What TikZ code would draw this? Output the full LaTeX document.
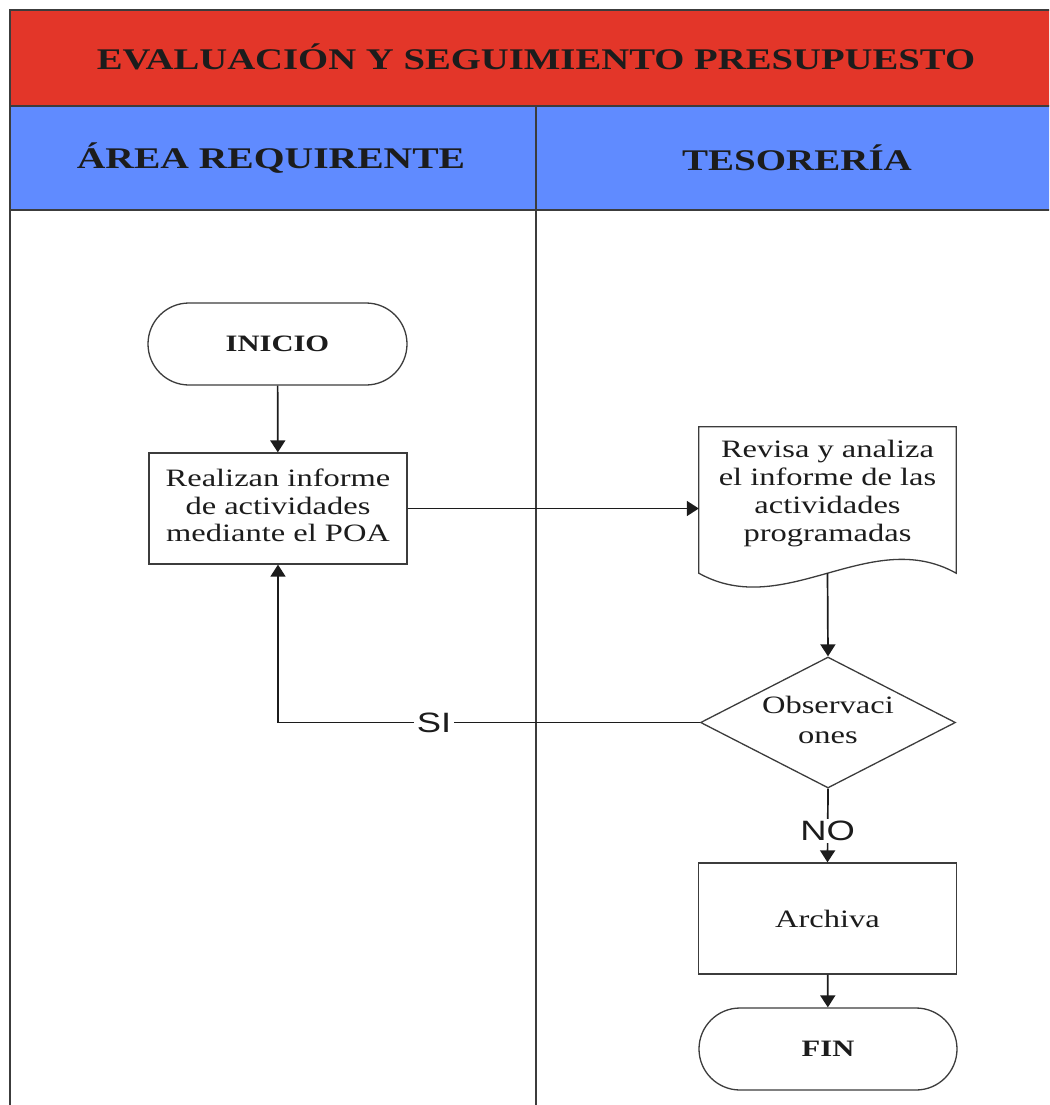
\documentclass[tikz,border=0pt]{standalone}
\usepackage{graphicx}
\usepackage{fontspec}
\setmainfont{Liberation Serif}
\newfontfamily\labelfont{Liberation Sans}
\usetikzlibrary{shapes.geometric,arrows.meta}
\definecolor{titlered}{RGB}{227,54,41}
\definecolor{laneblue}{RGB}{96,139,255}
\definecolor{ink}{RGB}{28,28,28}
\definecolor{rulegray}{RGB}{60,60,60}
% all lettering in this chart is set slightly wide
\newcommand\stretched[1]{\scalebox{1.3}[1]{#1}}
\newcommand\lines[1]{\stretched{\begin{tabular}{@{}c@{}}#1\end{tabular}}}

\begin{document}
\begin{tikzpicture}[x=1pt,y=-1pt,
  every node/.style={inner sep=0pt, text=ink},
  frameline/.style={draw=rulegray, line width=1.4pt},
  shapeline/.style={draw=rulegray, line width=1.3pt, fill=white},
  terminal/.style={shapeline, rounded corners=41pt, minimum width=259pt, minimum height=82pt,
    font=\fontsize{23.5}{27}\selectfont\bfseries},
  process/.style={shapeline, minimum width=258pt, minimum height=111pt,
    font=\fontsize{25}{27.7}\selectfont},
  decision/.style={shapeline, diamond, aspect=1.95, minimum width=255pt, minimum height=131pt,
    font=\fontsize{25}{29.5}\selectfont},
  bodytext/.style={font=\fontsize{25}{27.7}\selectfont},
  headtext/.style={font=\fontsize{30}{32}\selectfont\bfseries},
  branchlabel/.style={fill=white, inner xsep=3pt, inner ysep=2pt, font=\labelfont\fontsize{28}{30}\selectfont},
  flow/.style={draw=ink, line width=1.7pt, -{Triangle[length=12pt,width=15pt]}}
]
\useasboundingbox (0,0) rectangle (1049,1105);
\clip (0,0) rectangle (1049,1105);

% swimlane frame
\fill[titlered] (10,10) rectangle (1062,106);
\fill[laneblue] (10,106) rectangle (1062,210);
\draw[frameline] (1062,10) -- (10,10) -- (10,1110);
\draw[frameline] (10,106) -- (1062,106);
\draw[frameline] (10,210) -- (1062,210);
\draw[frameline] (536,106) -- (536,1110);

\node[headtext] (title) at (536,57) {\scalebox{1.29}[1]{EVALUACIÓN Y SEGUIMIENTO PRESUPUESTO}};
\node[headtext] (lanea) at (271,158) {\scalebox{1.32}[1]{ÁREA REQUIRENTE}};
\node[headtext] (laneb) at (797,158) {\stretched{TESORERÍA}};

% flow shapes
\node[terminal] (start) at (277.5,344) {\stretched{INICIO}};
\node[process] (report) at (278,508.5) {\lines{Realizan informe\\de actividades\\mediante el POA}};

\node[minimum width=257pt, minimum height=146pt] (doc) at (827.5,500) {};
\draw[shapeline] (doc.south west) -- (doc.north west) -- (doc.north east) -- (doc.south east)
  .. controls +(-86,-48) and +(86,48) .. (doc.south west) -- cycle;
\node[bodytext] (doctext) at (827.5,494) {\lines{Revisa y analiza\\el informe de las\\actividades\\programadas}};

\node[decision] (check) at (828,722.5) {\lines{Observaci\\ones}};
\node[process] (archive) at (827.5,918.5) {\stretched{Archiva}};
\node[terminal, minimum width=258pt] (finish) at (828,1049) {\stretched{FIN}};

% connectors
\draw[flow] (start) -- (report);
\draw[flow] (report.east) -- (report.east -| doc.west);
\draw[flow] (doc.south) -- (check.north);
\draw[flow] (check.west) -| node[branchlabel, pos=0.315] (yes) {\stretched{SI}} (report.south);
\draw[flow] (check.south) -- node[branchlabel, pos=0.57] (no) {\stretched{NO}} (archive.north);
\draw[flow] (archive) -- (finish);
\end{tikzpicture}
\end{document}
